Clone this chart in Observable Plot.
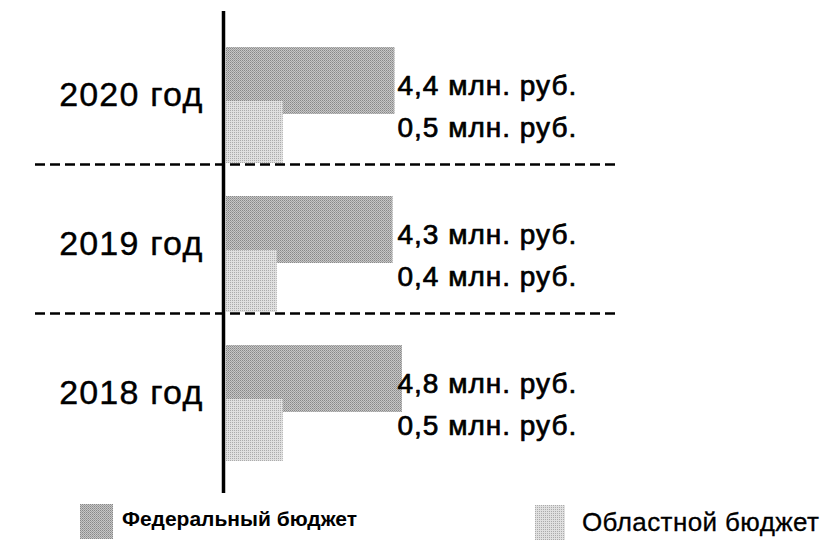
<!DOCTYPE html>
<html><head><meta charset="utf-8">
<script src="https://cdn.jsdelivr.net/npm/d3@7"></script>
<script src="https://cdn.jsdelivr.net/npm/@observablehq/plot@0.6"></script>
<style>
body{margin:0;background:#fff;font-family:"Liberation Sans",Arial,sans-serif;}
#wrap{position:relative;width:825px;height:554px;}
.leg{position:absolute;color:#000;white-space:nowrap;}
.sw{position:absolute;}
</style></head><body>
<div id="wrap"><div id="chart"></div>
<div class="sw" style="left:80px;top:504px;width:33px;height:35px;background:url(&quot;data:image/svg+xml,%3Csvg xmlns='http://www.w3.org/2000/svg' width='2' height='2'%3E%3Crect width='2' height='2' fill='%23c6c6c6'/%3E%3Crect width='1' height='1' fill='%23888888'/%3E%3Crect x='1' y='1' width='1' height='1' fill='%239e9e9e'/%3E%3C/svg%3E&quot;)"></div>
<div class="leg" id="l1" style="left:122px;top:507px;font-size:21px;font-weight:bold;"></div>
<div class="sw" style="left:535px;top:505px;width:30px;height:35px;background:url(&quot;data:image/svg+xml,%3Csvg xmlns='http://www.w3.org/2000/svg' width='2' height='2'%3E%3Crect width='2' height='2' fill='%23e0e0e0'/%3E%3Crect width='1' height='1' fill='%23acacac'/%3E%3C/svg%3E&quot;)"></div>
<div class="leg" id="l2" style="left:582px;top:507px;font-size:26px;letter-spacing:0.4px;-webkit-text-stroke:0.3px #000;"></div>
</div>
<script>
const years = ["2020 год", "2019 год", "2018 год"];
const federal = [4.4, 4.3, 4.8];
const regional = [0.5, 0.4, 0.5];
const seriesNames = ["Федеральный бюджет", "Областной бюджет"];
const unit = " млн. руб.";

const fmt = v => String(v).replace(".", ",") + unit;
const fedData = years.map((y, i) => ({year: y, value: federal[i]}));
const regData = years.map((y, i) => ({year: y, value: regional[i]}));

document.getElementById("l1").textContent = seriesNames[0];
document.getElementById("l2").textContent = seriesNames[1];

const plot = Plot.plot({
  width: 825,
  height: 495,
  marginLeft: 35,
  marginRight: 210,
  marginTop: 11,
  marginBottom: 2,
  style: {fontFamily: "Liberation Sans, Arial, sans-serif", background: "#fff"},
  x: {type: "sqrt", domain: [0, 4.8], range: [226, 402], axis: null},
  y: {type: "band", domain: years, range: [15, 462], padding: 0, axis: null},
  marks: [
    Plot.barX(fedData, {x: "value", y: "year", fill: "url(#fedPat)", insetTop: 32, insetBottom: 50}),
    Plot.barX(regData, {x: "value", y: "year", fill: "url(#regPat)", insetTop: 86, insetBottom: 1}),
    Plot.ruleY(years.slice(1), {y: d => d, dy: -74.5, stroke: "#000", strokeWidth: 2.5, strokeDasharray: "10,5"}),
    Plot.ruleX([0], {stroke: "#000", strokeWidth: 3.5, dx: -3}),
    Plot.text(years, {y: d => d, text: d => d, frameAnchor: "left", textAnchor: "end", dx: 168, dy: 5, fontSize: 34, fill: "#000", stroke: "#000", strokeWidth: 0.4}),
    Plot.text(fedData, {y: "year", text: d => fmt(d.value), frameAnchor: "left", textAnchor: "start", dx: 362, dy: -4, fontSize: 28, fill: "#000", stroke: "#000", strokeWidth: 0.7}),
    Plot.text(regData, {y: "year", text: d => fmt(d.value), frameAnchor: "left", textAnchor: "start", dx: 362, dy: 38, fontSize: 28, fill: "#000", stroke: "#000", strokeWidth: 0.7})
  ]
});

const ns = "http://www.w3.org/2000/svg";
const defs = document.createElementNS(ns, "defs");
defs.innerHTML = `
<pattern id="fedPat" width="2" height="2" patternUnits="userSpaceOnUse">
  <rect width="2" height="2" fill="#c6c6c6"/><rect width="1" height="1" fill="#888888"/><rect x="1" y="1" width="1" height="1" fill="#9e9e9e"/>
</pattern>
<pattern id="regPat" width="2" height="2" patternUnits="userSpaceOnUse">
  <rect width="2" height="2" fill="#e0e0e0"/><rect width="1" height="1" fill="#acacac"/>
</pattern>`;
plot.insertBefore(defs, plot.firstChild);
const textGroups = plot.querySelectorAll('g[aria-label="text"]');
if (textGroups[0]) textGroups[0].style.letterSpacing = "1.2px";
if (textGroups[1]) textGroups[1].style.letterSpacing = "1px";
if (textGroups[2]) textGroups[2].style.letterSpacing = "1px";
document.getElementById("chart").appendChild(plot);
</script>
</body></html>
